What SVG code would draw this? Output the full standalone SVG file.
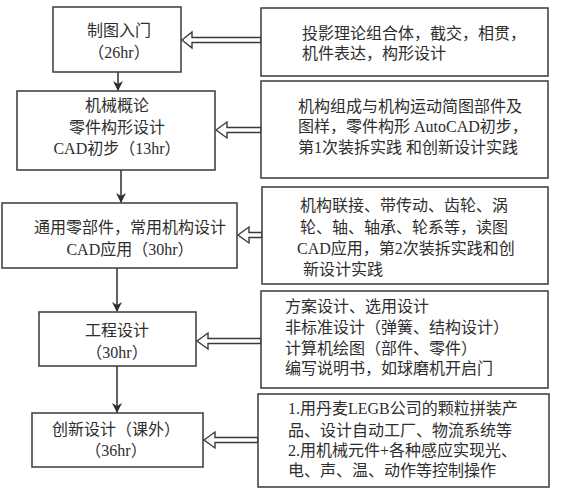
<svg xmlns="http://www.w3.org/2000/svg" width="581" height="500" viewBox="0 0 581 500">
<defs>
<style>
.box{fill:#fff;stroke:#3a3a3a;stroke-width:1.5}
.t{font-family:"Liberation Serif","Noto Sans CJK SC",serif;font-size:16px;fill:#2e2e2e}
.c{text-anchor:middle}
.ln{stroke:#2e2e2e;stroke-width:1.5;fill:none}
.ha{fill:#fff;stroke:#3a3a3a;stroke-width:1.4;stroke-linejoin:miter}
</style>
<marker id="ah" markerWidth="10" markerHeight="10" refX="9" refY="5" orient="auto" markerUnits="userSpaceOnUse">
<path d="M0,0 L10,5 L0,10 L3,5 Z" fill="#2e2e2e"/>
</marker>
</defs>
<rect width="581" height="500" fill="#fff"/>

<g id="connectors">
<line class="ln" x1="118" y1="72" x2="118" y2="90" marker-end="url(#ah)"/>
<line class="ln" x1="121" y1="170" x2="121" y2="202" marker-end="url(#ah)"/>
<line class="ln" x1="117" y1="268" x2="117" y2="311" marker-end="url(#ah)"/>
<line class="ln" x1="117" y1="366" x2="117" y2="412" marker-end="url(#ah)"/>
<polygon class="ha" points="182,40 192,32 192,37.5 261,37.5 261,42.5 192,42.5 192,48"/>
<polygon class="ha" points="216,130 227,122 227,127.5 261,127.5 261,132.5 227,132.5 227,138"/>
<polygon class="ha" points="238,235 249,227 249,232.5 262,232.5 262,237.5 249,237.5 249,243"/>
<polygon class="ha" points="197,341 208,333 208,338.5 261,338.5 261,343.5 208,343.5 208,349"/>
<polygon class="ha" points="204,440 215,432 215,437.5 258,437.5 258,442.5 215,442.5 215,448"/>
</g>

<g id="n1">
<rect class="box" x="53" y="7" width="128" height="65"/>
<text class="t c" x="119" y="36">制图入门</text>
<text class="t c" x="119" y="58">（26hr）</text>
</g>
<g id="n2">
<rect class="box" x="17" y="91" width="198" height="79"/>
<text class="t c" x="117" y="111">机械概论</text>
<text class="t c" x="117" y="133">零件构形设计</text>
<text class="t c" x="117" y="154">CAD初步（13hr）</text>
</g>
<g id="n3">
<rect class="box" x="2" y="203" width="235" height="65"/>
<text class="t c" x="130" y="233">通用零部件，常用机构设计</text>
<text class="t c" x="130" y="255">CAD应用（30hr）</text>
</g>
<g id="n4">
<rect class="box" x="39" y="312" width="157" height="54"/>
<text class="t c" x="117" y="336">工程设计</text>
<text class="t c" x="117" y="358">（30hr）</text>
</g>
<g id="n5">
<rect class="box" x="32" y="413" width="171" height="54"/>
<text class="t c" x="116" y="435">创新设计（课外）</text>
<text class="t c" x="116" y="456">（36hr）</text>
</g>

<g id="r1">
<rect class="box" x="261" y="8" width="287" height="68"/>
<text class="t" x="302" y="39">投影理论组合体，截交，相贯，</text>
<text class="t" x="302" y="59">机件表达，构形设计</text>
</g>
<g id="r2">
<rect class="box" x="261" y="81" width="287" height="97"/>
<text class="t" x="298" y="112">机构组成与机构运动简图部件及</text>
<text class="t" x="298" y="132">图样，零件构形 AutoCAD初步，</text>
<text class="t" x="298" y="153">第1次装拆实践 和创新设计实践</text>
</g>
<g id="r3">
<rect class="box" x="262" y="187" width="286" height="97"/>
<text class="t" x="300" y="211">机构联接、带传动、齿轮、涡</text>
<text class="t" x="300" y="233">轮、轴、轴承、轮系等，读图</text>
<text class="t" x="297" y="254">CAD应用，第2次装拆实践和创</text>
<text class="t" x="303" y="275">新设计实践</text>
</g>
<g id="r4">
<rect class="box" x="261" y="291" width="287" height="97"/>
<text class="t" x="285" y="312">方案设计、选用设计</text>
<text class="t" x="285" y="333">非标准设计（弹簧、结构设计）</text>
<text class="t" x="285" y="354">计算机绘图（部件、零件）</text>
<text class="t" x="285" y="374">编写说明书，如球磨机开启门</text>
</g>
<g id="r5">
<rect class="box" x="258" y="394" width="291" height="93"/>
<text class="t" x="288" y="414">1.用丹麦LEGB公司的颗粒拼装产</text>
<text class="t" x="288" y="436">品、设计自动工厂、物流系统等</text>
<text class="t" x="288" y="456">2.用机械元件+各种感应实现光、</text>
<text class="t" x="288" y="476">电、声、温、动作等控制操作</text>
</g>
</svg>
